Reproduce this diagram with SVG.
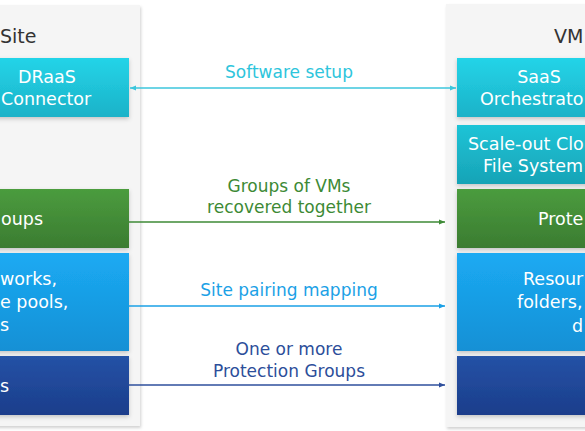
<svg xmlns="http://www.w3.org/2000/svg" width="585" height="431" viewBox="0 0 585 431">
<style>
text{font-family:"DejaVu Sans","Liberation Sans",sans-serif;font-size:17px}
.bt{fill:#ffffff;font-size:17.5px}
.ttl{fill:#333333;font-size:19px}
.panel{fill:#f5f5f5}
</style>
<defs>
<filter id="ps" x="-10%" y="-10%" width="120%" height="120%"><feDropShadow dx="1" dy="2" stdDeviation="1.5" flood-color="#000" flood-opacity="0.18"/></filter>
<filter id="bs" x="-10%" y="-10%" width="120%" height="130%"><feDropShadow dx="0" dy="2" stdDeviation="2" flood-color="#000" flood-opacity="0.2"/></filter>
<linearGradient id="gc" x1="0" y1="0" x2="0" y2="1"><stop offset="0" stop-color="#23d4e8"/><stop offset="1" stop-color="#1cb2c8"/></linearGradient>
<linearGradient id="gt" x1="0" y1="0" x2="0" y2="1"><stop offset="0" stop-color="#1fc4d7"/><stop offset="1" stop-color="#17a3b6"/></linearGradient>
<linearGradient id="gg" x1="0" y1="0" x2="0" y2="1"><stop offset="0" stop-color="#4b9c3e"/><stop offset="1" stop-color="#3b7c31"/></linearGradient>
<linearGradient id="gb" x1="0" y1="0" x2="0" y2="1"><stop offset="0" stop-color="#1baaf3"/><stop offset="1" stop-color="#1590d5"/></linearGradient>
<linearGradient id="gd" x1="0" y1="0" x2="0" y2="1"><stop offset="0" stop-color="#2552a6"/><stop offset="1" stop-color="#1b3d8b"/></linearGradient>
<marker id="ac" viewBox="0 0 6 6" refX="6" refY="3" markerWidth="6" markerHeight="6" orient="auto-start-reverse" markerUnits="userSpaceOnUse"><path d="M0,0.5 L6,3 L0,5.5 Z" fill="#3cc6dc"/></marker>
<marker id="ag" viewBox="0 0 6 6" refX="6" refY="3" markerWidth="6" markerHeight="6" orient="auto" markerUnits="userSpaceOnUse"><path d="M0,0.5 L6,3 L0,5.5 Z" fill="#3e8a36"/></marker>
<marker id="ab" viewBox="0 0 6 6" refX="6" refY="3" markerWidth="6" markerHeight="6" orient="auto" markerUnits="userSpaceOnUse"><path d="M0,0.5 L6,3 L0,5.5 Z" fill="#1aa0e6"/></marker>
<marker id="ad" viewBox="0 0 6 6" refX="6" refY="3" markerWidth="6" markerHeight="6" orient="auto" markerUnits="userSpaceOnUse"><path d="M0,0.5 L6,3 L0,5.5 Z" fill="#2e4f9c"/></marker>
</defs>
<rect width="585" height="431" fill="#ffffff"/>
<g id="left-panel">
<rect class="panel" x="-20" y="5" width="160" height="421" filter="url(#ps)"/>
<text class="ttl" x="0" y="43">Site</text>
</g>
<g id="right-panel">
<rect class="panel" x="446" y="4" width="160" height="423" filter="url(#ps)"/>
<text class="ttl" x="554" y="43">VM</text>
</g>
<g id="draas-connector">
<rect x="-35" y="58" width="164" height="59" fill="url(#gc)" filter="url(#bs)"/>
<text class="bt" x="47" y="83" text-anchor="middle">DRaaS</text>
<text class="bt" x="1" y="105">Connector</text>
</g>
<g id="left-protection-groups">
<rect x="-35" y="189" width="164" height="59" fill="url(#gg)" filter="url(#bs)"/>
<text class="bt" x="43" y="225" text-anchor="end">oups</text>
</g>
<g id="left-resources">
<rect x="-35" y="253" width="164" height="98" fill="url(#gb)" filter="url(#bs)"/>
<text class="bt" x="0" y="285">works,</text>
<text class="bt" x="0" y="308">e pools,</text>
<text class="bt" x="0" y="331">s</text>
</g>
<g id="left-vms">
<rect x="-35" y="356" width="164" height="59" fill="url(#gd)" filter="url(#bs)"/>
<text class="bt" x="0" y="392">s</text>
</g>
<g id="saas-orchestrator">
<rect x="457" y="58" width="164" height="59" fill="url(#gc)" filter="url(#bs)"/>
<text class="bt" x="539" y="83" text-anchor="middle">SaaS</text>
<text class="bt" x="480" y="105">Orchestrato</text>
</g>
<g id="scale-out-cloud-file-system">
<rect x="457" y="125" width="164" height="59" fill="url(#gt)" filter="url(#bs)"/>
<text class="bt" x="468" y="150">Scale-out Clo</text>
<text class="bt" x="483" y="172">File System</text>
</g>
<g id="right-protection-groups">
<rect x="457" y="189" width="164" height="59" fill="url(#gg)" filter="url(#bs)"/>
<text class="bt" x="538" y="225">Prote</text>
</g>
<g id="right-resources">
<rect x="457" y="253" width="164" height="98" fill="url(#gb)" filter="url(#bs)"/>
<text class="bt" x="523" y="285">Resour</text>
<text class="bt" x="517" y="308">folders,</text>
<text class="bt" x="572" y="332">d</text>
</g>
<g id="right-vms">
<rect x="457" y="356" width="164" height="59" fill="url(#gd)" filter="url(#bs)"/>
</g>
<g id="connectors">
<line x1="130" y1="88" x2="456" y2="88" stroke="#3cc6dc" stroke-width="1.3" marker-start="url(#ac)" marker-end="url(#ac)"/>
<line x1="129" y1="222" x2="445" y2="222" stroke="#3e8a36" stroke-width="1.3" marker-end="url(#ag)"/>
<line x1="129" y1="306" x2="445" y2="306" stroke="#1aa0e6" stroke-width="1.3" marker-end="url(#ab)"/>
<line x1="129" y1="385" x2="445" y2="385" stroke="#2e4f9c" stroke-width="1.3" marker-end="url(#ad)"/>
<text x="289" y="78" text-anchor="middle" fill="#2ec5dc">Software setup</text>
<text x="289" y="192" text-anchor="middle" fill="#3d8a35">Groups of VMs</text>
<text x="289" y="213" text-anchor="middle" fill="#3d8a35">recovered together</text>
<text x="289" y="296" text-anchor="middle" fill="#1ba1e6">Site pairing mapping</text>
<text x="289" y="355" text-anchor="middle" fill="#2c4e9a">One or more</text>
<text x="289" y="377" text-anchor="middle" fill="#2c4e9a">Protection Groups</text>
</g>
</svg>
